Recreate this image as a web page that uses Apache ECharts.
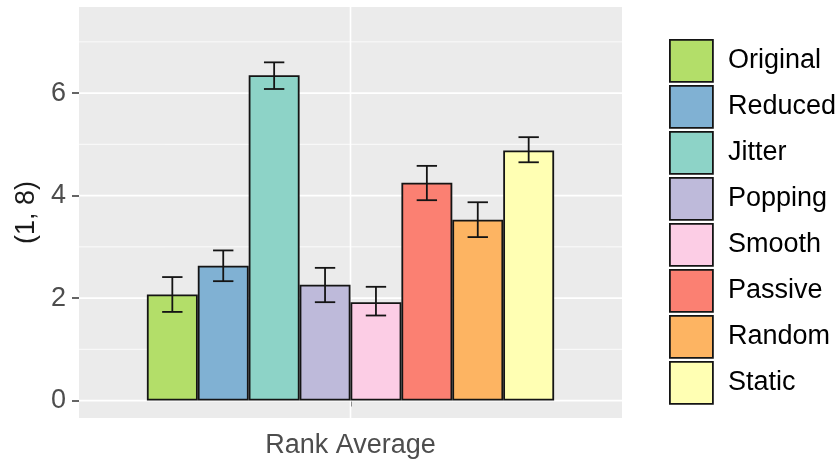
<!DOCTYPE html>
<html>
<head>
<meta charset="utf-8">
<script src="https://cdn.jsdelivr.net/npm/echarts@6/dist/echarts.min.js"></script>
<style>html,body{margin:0;padding:0;background:#fff;}#c{width:838px;height:463px;}</style>
</head>
<body>
<div id="c"></div>
<script>
const category = ['Rank Average'];
const groups = ['Original','Reduced','Jitter','Popping','Smooth','Passive','Random','Static'];
const means = [2.07, 2.63, 6.35, 2.26, 1.92, 4.25, 3.53, 4.88];
const lower = [1.73, 2.33, 6.08, 1.92, 1.66, 3.91, 3.19, 4.65];
const upper = [2.41, 2.93, 6.60, 2.59, 2.22, 4.58, 3.87, 5.14];
const colors = ['#B3DE69','#80B1D3','#8DD3C7','#BEBADA','#FCCDE5','#FB8072','#FDB462','#FFFFB3'];
const yTicks = [0, 2, 4, 6];
const yMinor = [1, 3, 5, 7];

const FONT = 'Liberation Sans, Arial, sans-serif';
const FS = 27;
const nBars = groups.length;
const dodgeFrac = 0.75;

const series = [];
// gridlines
series.push({
  type: 'custom', z: 1, silent: true,
  data: yTicks.map(v => [category[0], v, 1.6]).concat(yMinor.map(v => [category[0], v, 0.8])),
  encode: {x: 0, y: 1},
  renderItem: function(params, api) {
    const cs = params.coordSys;
    const y = api.coord([api.value(0), api.value(1)])[1];
    return {type: 'line', shape: {x1: cs.x, y1: y, x2: cs.x + cs.width, y2: y},
      style: {stroke: '#ffffff', lineWidth: api.value(2)}};
  }
});
series.push({
  type: 'custom', z: 1, silent: true,
  data: [[category[0], 0]],
  encode: {x: 0, y: 1},
  renderItem: function(params, api) {
    const cs = params.coordSys;
    const x = api.coord([api.value(0), 0])[0];
    return {type: 'line', shape: {x1: x, y1: cs.y, x2: x, y2: cs.y + cs.height},
      style: {stroke: '#ffffff', lineWidth: 1.6}};
  }
});
groups.forEach((g, i) => {
  series.push({
    name: g, type: 'bar', z: 2,
    data: [means[i]],
    barGap: '0%', barCategoryGap: '25%',
    itemStyle: {color: colors[i], borderColor: '#141414', borderWidth: 1.8},
    emphasis: {disabled: true}
  });
});
series.push({
  type: 'custom', z: 5, silent: true,
  data: groups.map((g, i) => [category[0], lower[i], upper[i], i]),
  encode: {x: 0, y: [1, 2]},
  renderItem: function(params, api) {
    const idx = api.value(3);
    const p0 = api.coord([api.value(0), api.value(1)]);
    const p1 = api.coord([api.value(0), api.value(2)]);
    const band = api.size([1, 0])[0];
    const bw = band * dodgeFrac / nBars;
    const cx = p0[0] + (idx - (nBars - 1) / 2) * bw;
    const hw = bw * 0.2;
    const st = {stroke: '#141414', lineWidth: 1.8};
    return {type: 'group', children: [
      {type: 'line', shape: {x1: cx, y1: p0[1], x2: cx, y2: p1[1]}, style: st},
      {type: 'line', shape: {x1: cx - hw, y1: p0[1], x2: cx + hw, y2: p0[1]}, style: st},
      {type: 'line', shape: {x1: cx - hw, y1: p1[1], x2: cx + hw, y2: p1[1]}, style: st}
    ]};
  }
});

const chart = echarts.init(document.getElementById('c'), null, {renderer: 'canvas'});
chart.setOption({
  animation: false,
  backgroundColor: '#ffffff',
  textStyle: {fontFamily: FONT},
  grid: {left: 79, right: 216, top: 7, bottom: 45, show: true, backgroundColor: '#EBEBEB', borderWidth: 0, containLabel: false},
  legend: {
    orient: 'vertical', left: 669, top: 39, padding: 0,
    itemWidth: 43, itemHeight: 42, itemGap: 2.2,
    icon: 'rect',
    data: groups,
    selectedMode: false,
    itemStyle: {borderColor: '#141414', borderWidth: 1.8},
    textStyle: {fontSize: FS, color: '#000000', fontFamily: FONT, padding: [0, 0, 0, 10], lineHeight: 30}
  },
  xAxis: {
    type: 'category', data: category,
    axisLine: {show: false},
    axisTick: {show: true, alignWithLabel: true, length: 6, lineStyle: {color: '#333333', width: 1.5}},
    axisLabel: {color: '#4D4D4D', fontSize: FS, fontFamily: FONT, margin: 14},
    splitLine: {show: false}
  },
  yAxis: {
    type: 'value', min: -0.34, max: 7.68,
    name: '(1, 8)', nameLocation: 'middle', nameRotate: 90, nameGap: 38,
    nameTextStyle: {color: '#1a1a1a', fontSize: FS, fontFamily: FONT},
    axisLine: {show: false},
    axisTick: {show: true, length: 7, customValues: yTicks, lineStyle: {color: '#333333', width: 1.5}},
    axisLabel: {color: '#4D4D4D', fontSize: FS, fontFamily: FONT, margin: 13, customValues: yTicks},
    splitLine: {show: false}
  },
  series: series
});
</script>
</body>
</html>
